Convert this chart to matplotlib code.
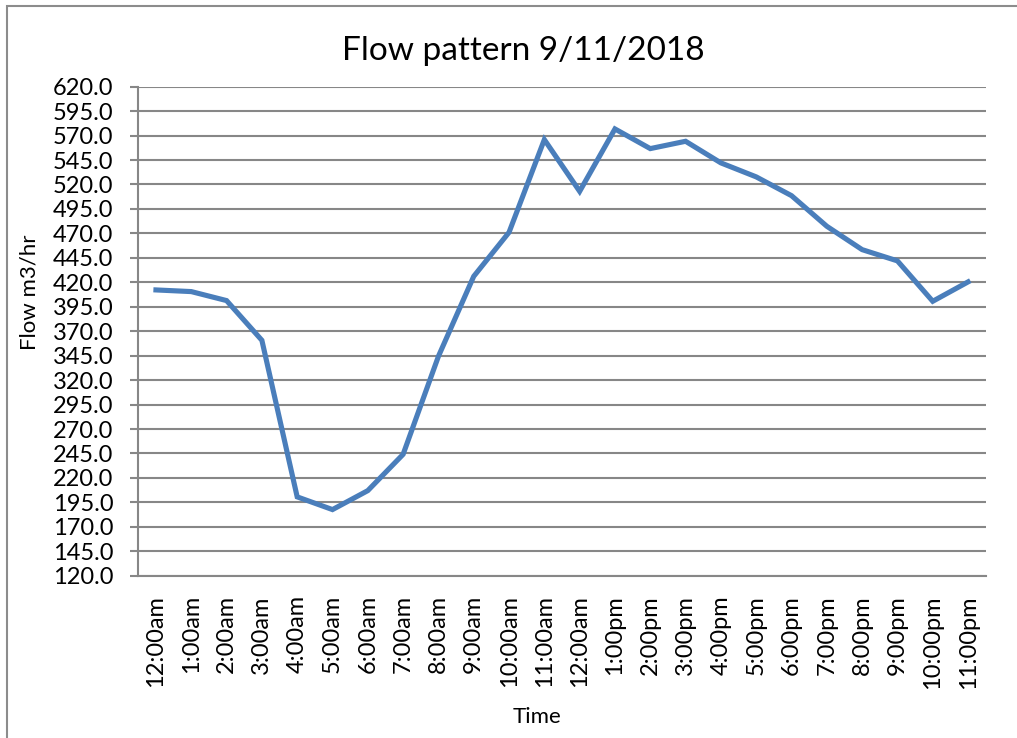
import numpy as np
import matplotlib
matplotlib.use("Agg")
import matplotlib.pyplot as plt
from matplotlib.patches import Rectangle

plt.rcParams['font.family'] = ['Lato', 'DejaVu Sans']

# hourly flow readings
times = ['12:00am', '1:00am', '2:00am', '3:00am', '4:00am', '5:00am',
         '6:00am', '7:00am', '8:00am', '9:00am', '10:00am', '11:00am',
         '12:00am', '1:00pm', '2:00pm', '3:00pm', '4:00pm', '5:00pm',
         '6:00pm', '7:00pm', '8:00pm', '9:00pm', '10:00pm', '11:00pm']
flow = [412.2, 410.5, 401.3, 360.7, 200.6, 187.6, 207.0, 244.1,
        344.3, 426.1, 471.1, 565.9, 513.0, 576.8, 556.7, 564.2,
        542.1, 527.8, 508.6, 477.3, 453.4, 441.9, 400.6, 420.4]
yticks = np.arange(120, 621, 25)

W, H = 1017, 738
fig = plt.figure(figsize=(W / 100, H / 100), dpi=100)

# chart border like the Excel chart area
fig.patches.append(Rectangle((7 / W, -0.1), 1.2, 1 - 6 / H + 0.1,
                             transform=fig.transFigure, fill=False,
                             edgecolor='#8c8c8c', linewidth=1.5))

left, right, top, bottom = 138.3, 985.7, 86.7, 575.7
ax = fig.add_axes([left / W, 1 - bottom / H, (right - left) / W, (bottom - top) / H])

grid_col = '#878787'
x = np.arange(len(times))
ax.plot(x, flow, color='#4a7ebb', linewidth=3.7, solid_joinstyle='miter', zorder=3)

ax.set_xlim(-0.5, len(times) - 0.5)
ax.set_ylim(120, 620)
ax.set_yticks(yticks)
ax.set_yticklabels([f'{v:.1f}' for v in yticks])
ax.set_xticks(x)
ax.set_xticklabels(times, rotation=90, va='top', ha='center')

ax.yaxis.grid(True, color=grid_col, linewidth=1.5)
ax.set_axisbelow(True)
for s in ['top', 'right']:
    ax.spines[s].set_visible(False)
for s in ['left', 'bottom']:
    ax.spines[s].set_color(grid_col)
    ax.spines[s].set_linewidth(1.5)

ax.tick_params(axis='y', length=6, width=1.5, color=grid_col, pad=12, labelsize=17)
ax.tick_params(axis='x', length=0, pad=14, labelsize=17)

fig.text(523 / W, 1 - 51 / H, 'Flow pattern 9/11/2018', ha='center', va='center', fontsize=24)
fig.text(29 / W, 1 - 292 / H, 'Flow m3/hr', rotation=90, ha='center', va='center', fontsize=16)
fig.text(537 / W, 1 - 717 / H, 'Time', ha='center', va='center', fontsize=16)

fig.savefig('out.png', dpi=100)
